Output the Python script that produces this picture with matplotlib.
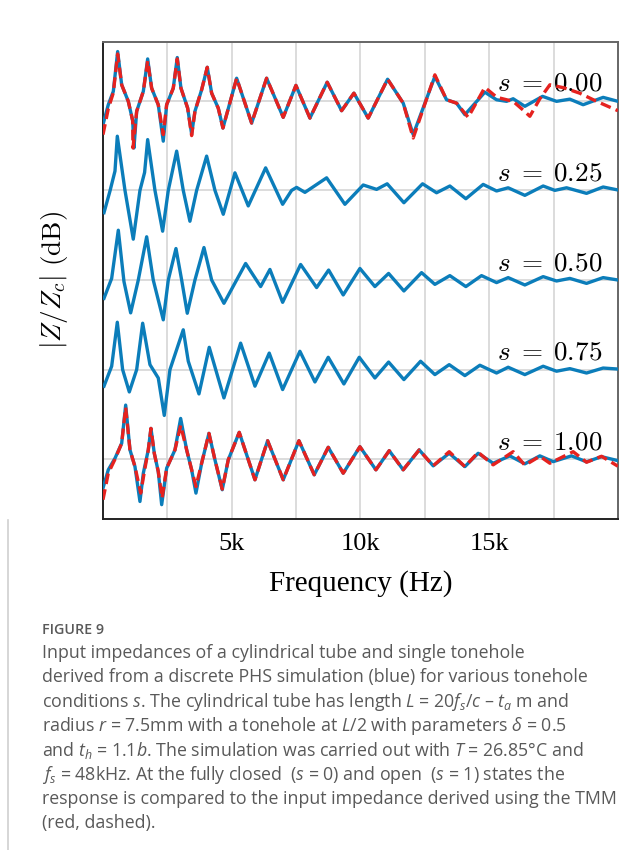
import matplotlib
matplotlib.use("Agg")
import matplotlib.pyplot as plt
from matplotlib.lines import Line2D

plt.rcParams["mathtext.fontset"] = "cm"
plt.rcParams["mathtext.rm"] = "Open Sans"
plt.rcParams["mathtext.it"] = "Open Sans:italic"

# tonehole states and vertical offset between traces (dB)
states = ["0.00", "0.25", "0.50", "0.75", "1.00"]
offset = 45

# PHS simulation (blue), |Z/Zc| in dB relative to each trace baseline
f_phs_000 = [4, 210, 405, 574, 730, 987, 1157, 1207, 1312, 1570, 1739, 1894, 2151, 2345, 2476, 2733,
             2888, 3032, 3292, 3447, 3575, 3835, 4053, 4224, 4480, 4662, 5194, 5776, 6358, 7003, 7496,
             8040, 8711, 9270, 9748, 10303, 11056, 11662, 12050, 12892, 13346, 13734, 14057, 14833,
             15287, 15676, 15932, 16386, 17073, 17617, 18133, 18650, 19426, 20000]
db_phs_000 = [-12, -2, 4.7, 24.7, 8, -0.3, -10, -23.7, -5.3, 4.7, 21, 6.3, -2, -20.3, -2, 6.3,
              21.7, 6.3, -3.7, -16.7, -5.3, 5.5, 16.8, 3.8, -3.7, -13.7, 11.3, -11.2, 11.3, -8.3, 7.7,
              -8.7, 9.3, -5, 3.8, -8.7, 10.8, -1.2, -17, 12.2, 0.5, -1.2, -7, 4.3,
              0.5, -0.3, 1, -2.8, 2.2, -0.3, 0.8, -2, 1.7, -0.3]

f_phs_025 = [43, 276, 470, 560, 858, 1180, 1440, 1620, 1739, 2022, 2320, 2540, 2865, 3121, 3380, 3641,
             4029, 4352, 4675, 5128, 5645, 6320, 6980, 7329, 7523, 7846, 8688, 9398, 10110, 10629,
             11040, 11689, 12414, 12957, 13474, 14095, 14767, 15287, 15738, 16386, 17097, 17551,
             18005, 18781, 19426, 20000]
db_phs_025 = [-11.2, -0.3, 9.7, 27.2, 0, -24.5, 0, 9, 25.5, 0, -20.5, 0, 19.7, 0, -15.5, 0,
              17.2, 0, -12, 8.8, -7.8, 11.3, -7, 0, 1.5, -1, 6.3, -7, 2.7, 0.5,
              3.3, -6.2, 3.3, -1.2, 2.2, -4.2, 3, -0.3, 1.3, -2.5, 2.2, 0,
              1.3, -1.5, 1.7, 0.2]

f_phs_050 = [43, 341, 599, 819, 1079, 1375, 1700, 1956, 2345, 2540, 2838, 3059, 3277, 3575, 3925, 4224,
             4701, 5543, 6126, 6487, 6980, 7679, 8300, 8766, 9333, 9981, 10563, 11095, 11689, 12375,
             12892, 13474, 14095, 14704, 15287, 15738, 16386, 17097, 17617, 18133, 18781, 19426, 20000]
db_phs_050 = [-9.2, 0.8, 25, -0.8, -16.5, 0, 21.7, 0, -20, 0, 15.8, 0, -16.7, 0, 16.3, 0,
              -11.7, 8.3, -3.3, 5.3, -11.2, 7.8, -3.8, 5, -7.5, 5.8, -3.3, 3.3, -5.5, 3.7,
              -2.2, 2.2, -3.3, 2.2, -1.3, 1.2, -2.5, 1.7, -0.5, 0.8, -1.7, 1.2, 0]

f_phs_075 = [43, 341, 560, 767, 1026, 1312, 1545, 1828, 2151, 2384, 2605, 3121, 3316, 3731, 4130, 4701,
             5349, 5905, 6460, 6980, 7651, 8234, 8751, 9359, 9955, 10563, 11095, 11689, 12337, 12892,
             13448, 14057, 14639, 15287, 15738, 16386, 17097, 17617, 18133, 18781, 19426, 20000]
db_phs_075 = [-8.3, 1.7, 23.8, 0, -11.2, 0, 23.3, 2.5, -4.2, -23, 0, 20, 4.2, -12.2, 11.2, -14.2,
              13.3, -8.3, 8.3, -10, 9.2, -6.2, 6.2, -7.2, 6.2, -4.2, 3.8, -5, 4.2, -2.5,
              2.5, -3, 2.2, -1.7, 1.2, -2.5, 1.7, -0.8, 0.5, -1.7, 0.8, 0.3]

f_phs_100 = [4, 210, 470, 730, 885, 1052, 1246, 1440, 1570, 1763, 1867, 1996, 2151, 2283, 2476, 2799,
             3020, 3253, 3447, 3614, 3835, 4119, 4352, 4635, 4868, 5295, 5905, 6397, 7003, 7613, 8207,
             8751, 9333, 9981, 10602, 11119, 11662, 12283, 12827, 13448, 14057, 14573, 15155, 15803,
             16386, 16968, 17485, 18197, 18781, 19364, 20000]
db_phs_100 = [-14.5, -5.3, 0.5, 8, 27.2, 4.7, -3.7, -21.2, -7, 4.7, 15.5, 3, -6.2, -22.8, -4.5, 4.7,
              20.5, 4.7, -5.3, -17, -2, 13, -0.3, -15.3, -0.3, 13.5, -10.3, 9.3, -10.3, 9.3, -7.8,
              6, -7, 6.3, -5.3, 4.3, -5.3, 4.7, -3.3, 3, -3.7, 3, -2, 1.7,
              -2.3, 1.7, -1.2, 1.7, -1.3, 1.3, -0.7]

# TMM reference (red, dashed) for the closed and open states
f_tmm_000 = [4, 210, 405, 574, 730, 987, 1157, 1170, 1312, 1570, 1739, 1894, 2151, 2345, 2476, 2733,
             2888, 3032, 3292, 3447, 3575, 3835, 4053, 4224, 4480, 4662, 5194, 5776, 6358, 7003, 7496,
             8040, 8711, 9270, 9748, 10303, 11056, 11662, 12050, 12892, 13346, 13734, 14185, 14833,
             15300, 15932, 16321, 16580, 16968, 17357, 17900, 18517, 19170, 20000]
db_tmm_000 = [-17, -4, 4, 23.5, 8, -0.3, -10, -23.7, -5.3, 4.7, 20, 6.3, -2, -17, -2, 6.3,
              21, 6.3, -3.7, -17.5, -5.3, 5.5, 16.8, 3.8, -3.7, -13.7, 11.3, -11.2, 11.3, -8.3, 7.7,
              -8.7, 9.3, -5, 3.8, -8.7, 10.8, -1.2, -18.7, 13, 0.5, -1.2, -8.3, 6.7,
              1.7, -0.3, -4.7, -7.8, 1, 8, 6.5, 3.8, -0.3, -5]

f_tmm_100 = [4, 210, 470, 730, 885, 1052, 1246, 1470, 1600, 1763, 1867, 1996, 2151, 2300, 2476, 2799,
             3020, 3253, 3447, 3614, 3835, 4119, 4352, 4635, 4868, 5295, 5905, 6397, 7003, 7613, 8207,
             8751, 9333, 9981, 10602, 11119, 11662, 12283, 12827, 13448, 14057, 14573, 15155, 15932,
             16386, 16968, 17357, 18262, 18781, 19364, 20000]
db_tmm_100 = [-20.3, -7, 0, 8, 26, 4.7, -3.7, -17, -7, 4.7, 15.5, 3, -6.2, -19.5, -4.5, 4.7,
              17, 4.7, -5.3, -13.7, -2, 13, -0.3, -15, -0.3, 13.5, -10.3, 9.3, -10.3, 9.3, -7.8,
              6, -7, 6.3, -5.3, 4.3, -5.3, 4.7, -3.3, 3.8, -3.7, 3.5, -2.8, 3.8,
              -3, 1.5, -2, 3.8, -1.5, 1.5, -3.5]

phs_f = [f_phs_000, f_phs_025, f_phs_050, f_phs_075, f_phs_100]
phs_db = [db_phs_000, db_phs_025, db_phs_050, db_phs_075, db_phs_100]
tmm = {0: (f_tmm_000, db_tmm_000), 4: (f_tmm_100, db_tmm_100)}

xticks = [5000, 10000, 15000]
xticklabels = ["5k", "10k", "15k"]

blue = "#0b7dba"
red = "#e5221f"

fig = plt.figure(figsize=(6.41, 8.5), dpi=100)
ax = fig.add_axes([0.1605, 0.3894, 0.8035, 0.5612])

for i, s in enumerate(states):
    base = -i * offset
    ax.plot(phs_f[i], [v + base for v in phs_db[i]], color=blue, lw=2.4, zorder=3,
            solid_joinstyle="round")
    if i in tmm:
        ft, dt = tmm[i]
        ax.plot(ft, [v + base for v in dt], color=red, lw=2.4, ls=(0, (3.2, 1.6)), zorder=4)
    ax.text(19400, base + 5, r"$s\;=\;%s$" % s, ha="right", va="baseline", fontsize=19.5,
            math_fontfamily="cm", zorder=2)

ax.set_xlim(0, 20000)
ax.set_ylim(-210, 29.5)
ax.set_xticks(xticks)
ax.set_xticklabels(xticklabels, fontfamily="Liberation Serif", fontsize=19)
ax.set_xticks([2500, 7500, 12500, 17500], minor=True)
ax.set_yticks([-i * offset for i in range(len(states))])
ax.set_yticklabels([])
ax.tick_params(which="both", length=0, pad=10)
ax.grid(True, which="both", color="#d6d6d6", lw=1.2, zorder=0)
ax.set_axisbelow(True)

for side in ["left", "bottom"]:
    ax.spines[side].set_color("#222222")
    ax.spines[side].set_linewidth(1.4)
for side in ["top", "right"]:
    ax.spines[side].set_color("#666666")
    ax.spines[side].set_linewidth(1.4)

ax.set_xlabel("Frequency (Hz)", fontfamily="Liberation Serif", fontsize=21, labelpad=11)
ax.set_ylabel(r"$|Z/Z_c|\ \mathrm{(dB)}$", fontsize=19.5, math_fontfamily="cm")
ax.yaxis.set_label_coords(-0.064, 0.5)

# caption
cap_color = "#595959"
fig.text(42 / 641, 1 - 630 / 850, "FIGURE 9", fontfamily="Open Sans", fontweight="semibold",
         fontsize=10.3, color=cap_color, va="center")
caption = [
    "Input impedances of a cylindrical tube and single tonehole",
    "derived from a discrete PHS simulation (blue) for various tonehole",
    r"conditions $s$. The cylindrical tube has length $L$ = 20$f_s$/$c$ – $t_a$ m and",
    r"radius $r$ = 7.5mm with a tonehole at $L$/2 with parameters $\delta$ = 0.5",
    r"and $t_h$ = 1.1$b$. The simulation was carried out with $T$ = 26.85°C and",
    r"$f_s$ = 48kHz. At the fully closed  ($s$ = 0) and open  ($s$ = 1) states the",
    "response is compared to the input impedance derived using the TMM",
    "(red, dashed).",
]
for k, line in enumerate(caption):
    fig.text(42 / 641, 1 - (653 + k * 24.3) / 850, line, fontfamily="Open Sans", fontsize=12.8,
             color=cap_color, va="center", math_fontfamily="custom")

fig.add_artist(Line2D([8 / 641, 8 / 641], [0, 1 - 520 / 850], color="#d0d0d0", lw=1.2))

fig.savefig("out.png", dpi=100)
